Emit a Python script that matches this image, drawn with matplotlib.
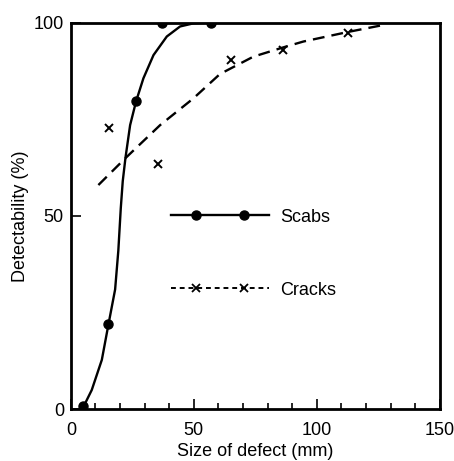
import matplotlib
matplotlib.use("Agg")
import matplotlib.pyplot as plt
from matplotlib.legend_handler import HandlerLine2D, HandlerTuple
from matplotlib.ticker import MultipleLocator

plt.rcParams['font.family'] = ['Liberation Sans', 'DejaVu Sans']

scabs_x = [5, 15.3, 26.5, 37.2, 56.9]
scabs_y = [0.8, 22.1, 79.6, 99.8, 99.8]
scabs_curve_x = [5, 8.5, 12.6, 15.3, 18.0, 19.3, 20.3, 21.1, 22.2, 24.1, 26.5,
                 29.5, 33.6, 39.0, 44.4, 49.8, 57, 150]
scabs_curve_y = [0.5, 5.0, 12.8, 22.0, 31.0, 41.0, 52.0, 59.0, 65.0, 73.5, 79.6,
                 85.6, 91.6, 96.4, 99.0, 99.8, 100, 100]

cracks_x = [15.7, 35.3, 65.1, 86.4, 112.8]
cracks_y = [72.7, 63.4, 90.4, 92.9, 97.4]
cracks_curve_x = [11.2, 22.1, 36.3, 49.8, 60.6, 74.2, 86.4, 94.5, 112.8, 128]
cracks_curve_y = [58.0, 64.9, 73.5, 80.4, 86.7, 91.2, 93.6, 95.1, 97.6, 99.5]

x_ticks = [0, 50, 100, 150]
y_ticks = [0, 50, 100]

FS = 13

fig = plt.figure(figsize=(4.54, 4.61), dpi=100)
ax = fig.add_axes([0.156, 0.112, 0.813, 0.839])

ax.plot(scabs_curve_x, scabs_curve_y, color='black', lw=1.7, solid_capstyle='round')
ax.plot(scabs_x, scabs_y, 'o', color='black', ms=6.5)
ax.plot(cracks_curve_x, cracks_curve_y, color='black', lw=1.7, dashes=(5, 3))
ax.plot(cracks_x, cracks_y, 'x', color='black', ms=6, mew=1.4)

# legend proxies: line part and marker part
l1, = ax.plot([], [], color='black', lw=1.7)
m1, = ax.plot([], [], color='black', ls='none', marker='o', ms=6.5)
l2, = ax.plot([], [], color='black', lw=1.4, dashes=(2.5, 2))
m2, = ax.plot([], [], color='black', ls='none', marker='x', ms=6, mew=1.3)
line_handler = HandlerLine2D(marker_pad=0, numpoints=2)
mark_handler = HandlerLine2D(marker_pad=1.4, numpoints=2)
leg = ax.legend([(l1, m1), (l2, m2)], ['Scabs', 'Cracks'], loc='upper left',
                bbox_to_anchor=(0.271, 0.519), frameon=False, fontsize=FS,
                handlelength=5.46, handletextpad=0.6, labelspacing=3.1,
                borderpad=0, borderaxespad=0,
                handler_map={tuple: HandlerTuple(ndivide=1, pad=0),
                             l1: line_handler, l2: line_handler,
                             m1: mark_handler, m2: mark_handler})

ax.set_xlim(0, 150)
ax.set_ylim(0, 100)
ax.set_xticks(x_ticks)
ax.set_yticks(y_ticks)
ax.xaxis.set_minor_locator(MultipleLocator(10))
ax.tick_params(axis='both', which='major', direction='in', length=7, width=1.2,
               labelsize=FS)
ax.tick_params(axis='x', which='major', pad=9)
ax.tick_params(axis='y', which='major', pad=5)
ax.tick_params(axis='x', which='minor', direction='in', length=4.5, width=1.2)
for s in ax.spines.values():
    s.set_linewidth(2)

ax.set_xlabel('Size of defect (mm)', fontsize=FS, labelpad=3)
ax.set_ylabel('Detectability (%)', fontsize=FS, labelpad=3)

fig.savefig('out.png', dpi=100)
